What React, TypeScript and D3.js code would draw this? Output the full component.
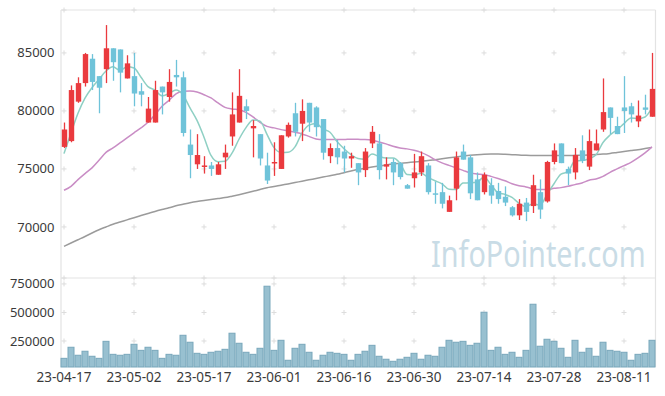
import React from "react"
import * as d3 from "d3"

// trading days shown on the chart
const dates = [
  "23-04-17", "23-04-18", "23-04-19", "23-04-20", "23-04-21", "23-04-24", "23-04-25", "23-04-26", "23-04-27", "23-04-28",
  "23-05-02", "23-05-03", "23-05-04", "23-05-08", "23-05-09", "23-05-10", "23-05-11", "23-05-12", "23-05-15", "23-05-16",
  "23-05-17", "23-05-18", "23-05-19", "23-05-22", "23-05-23", "23-05-24", "23-05-25", "23-05-26", "23-05-30", "23-05-31",
  "23-06-01", "23-06-02", "23-06-05", "23-06-07", "23-06-08", "23-06-09", "23-06-12", "23-06-13", "23-06-14", "23-06-15",
  "23-06-16", "23-06-19", "23-06-20", "23-06-21", "23-06-22", "23-06-23", "23-06-26", "23-06-27", "23-06-28", "23-06-29",
  "23-06-30", "23-07-03", "23-07-04", "23-07-05", "23-07-06", "23-07-07", "23-07-10", "23-07-11", "23-07-12", "23-07-13",
  "23-07-14", "23-07-17", "23-07-18", "23-07-19", "23-07-20", "23-07-21", "23-07-24", "23-07-25", "23-07-26", "23-07-27",
  "23-07-28", "23-07-31", "23-08-01", "23-08-02", "23-08-03", "23-08-04", "23-08-07", "23-08-08", "23-08-09", "23-08-10",
  "23-08-11", "23-08-14", "23-08-16", "23-08-17", "23-08-18",
]

const opens = [
  76900, 77400, 80800, 82400, 84500, 83000, 83600, 85400, 85300, 82800,
  83000, 81700, 79000, 79000, 82100, 81200, 83100, 82900, 77100, 75400,
  75200, 75300, 74500, 76000, 77800, 79000, 80400, 78500, 78000, 75300,
  75500, 75000, 77800, 79800, 78900, 80700, 80300, 79300, 76100, 76800,
  76500, 75900, 75500, 74900, 77200, 77200, 75200, 75600, 75500, 73600,
  74200, 74700, 75300, 72900, 73000, 71300, 73300, 76500, 76000, 74100,
  73000, 73600, 73100, 72600, 71700, 71000, 72100, 71800, 73000, 72200,
  75600, 77200, 75000, 74700, 76600, 75200, 76600, 78400, 80300, 78700,
  80300, 80400, 79100, 80300, 79500,
]
const highs = [
  79000, 82200, 82900, 85000, 84900, 83000, 87400, 85400, 85300, 84800,
  85000, 82400, 81200, 82600, 82100, 83600, 84400, 83400, 78400, 78000,
  76100, 75600, 75600, 77100, 81600, 83600, 81000, 79200, 78000, 76400,
  77300, 77900, 79000, 80700, 81000, 80700, 80400, 79300, 77200, 77500,
  77000, 76400, 75500, 76800, 78700, 78000, 76000, 75900, 75600, 73700,
  76300, 76500, 75500, 73900, 73800, 72700, 76500, 77100, 76200, 74700,
  74700, 74200, 73800, 73500, 71800, 72400, 72500, 74500, 74100, 75700,
  77200, 77200, 75200, 76800, 77900, 78400, 78400, 82800, 80300, 79500,
  83000, 80700, 80900, 81400, 85000,
]
const lows = [
  76800, 77300, 80700, 82100, 81800, 79800, 82400, 82600, 81600, 82800,
  80400, 80400, 79000, 79000, 79700, 80800, 82100, 77800, 74200, 75000,
  74600, 74400, 74500, 75000, 77000, 79000, 79300, 76000, 75300, 73700,
  74400, 75000, 77700, 77800, 77400, 78200, 77800, 75800, 75500, 75400,
  74700, 75100, 73600, 74300, 76800, 74100, 74100, 73600, 74100, 73300,
  73400, 74400, 72800, 72000, 71600, 71300, 72300, 75800, 72400, 72300,
  72800, 72000, 72000, 71800, 70900, 70600, 70500, 71200, 70700, 72100,
  75400, 75500, 73600, 74100, 75500, 74900, 76600, 78200, 78000, 78000,
  78100, 79000, 78600, 79700, 79500,
]
const closes = [
  78400, 81800, 82400, 84900, 82500, 82000, 85400, 84200, 83300, 84100,
  81500, 81400, 80200, 81800, 81600, 82500, 82900, 78100, 76200, 76200,
  75300, 75000, 75400, 76400, 79700, 81300, 80000, 78700, 75900, 74000,
  75600, 77900, 78800, 78200, 80000, 79000, 78600, 76400, 76800, 76000,
  75900, 76100, 74700, 76500, 78200, 74900, 75400, 74700, 74300, 73300,
  74700, 76100, 73000, 72800, 72000, 72300, 76000, 75800, 72900, 72300,
  74500, 72700, 72400, 72100, 71000, 72000, 71300, 73600, 71500, 75600,
  76600, 75500, 74600, 76200, 75700, 77400, 77200, 79900, 79400, 78000,
  80000, 79700, 79600, 80100, 81900,
]
const volumes = [
  98000, 195000, 125000, 160000, 116000, 98000, 247000, 133000, 125000, 133000,
  221000, 168000, 195000, 168000, 98000, 133000, 125000, 300000, 239000, 142000,
  133000, 151000, 160000, 177000, 318000, 230000, 151000, 133000, 186000, 730000,
  168000, 256000, 81000, 186000, 221000, 151000, 81000, 125000, 151000, 142000,
  133000, 81000, 133000, 160000, 212000, 116000, 90000, 72000, 90000, 107000,
  142000, 90000, 125000, 116000, 195000, 256000, 239000, 247000, 212000, 230000,
  502000, 168000, 195000, 133000, 151000, 107000, 168000, 572000, 204000, 265000,
  247000, 186000, 107000, 256000, 151000, 186000, 116000, 239000, 168000, 160000,
  151000, 81000, 133000, 142000, 256000,
]
const ma5 = [
  76320, 78100, 79800, 81100, 82000, 82720, 83440, 83800, 83480, 83800,
  83700, 82900, 82100, 81800, 81300, 81500, 81800, 81380, 80260, 79180,
  77740, 76160, 75620, 75660, 76360, 77560, 78560, 79220, 79120, 77980,
  76840, 76420, 76440, 76900, 78100, 78780, 78920, 78440, 78160, 77360,
  76740, 76240, 75900, 75840, 76280, 76080, 75940, 75940, 75500, 74520,
  74480, 74620, 74280, 73980, 73720, 73240, 73220, 73780, 73800, 73860,
  74300, 73640, 72960, 72800, 72540, 72040, 71760, 72000, 71880, 72800,
  73720, 74560, 74760, 75700, 75720, 75880, 76220, 77280, 77920, 78380,
  78900, 79400, 79340, 79480, 80260,
]
const ma20 = [
  73160, 73500, 74080, 74600, 75090, 75740, 76430, 76810, 77240, 77670,
  78110, 78540, 79020, 79680, 80400, 80910, 81470, 81690, 81720, 81640,
  81400, 81120, 80690, 80310, 80170, 80110, 79880, 79480, 79020, 78670,
  78540, 78390, 78300, 78160, 78020, 77810, 77590, 77530, 77530, 77530,
  77530, 77570, 77550, 77530, 77470, 77330, 77160, 76950, 76810, 76730,
  76610, 76430, 76150, 75800, 75520, 75310, 75090, 74880, 74660, 74570,
  74510, 74360, 74180, 73980, 73730, 73560, 73450, 73280, 73220, 73220,
  73330, 73390, 73500, 73650, 73790, 74020, 74140, 74360, 74710, 75000,
  75290, 75570, 75950, 76380, 76900,
]
const ma60 = [
  68330, 68620, 68900, 69180, 69480, 69760, 70000, 70230, 70420, 70610,
  70800, 70980, 71160, 71340, 71500, 71650, 71820, 71950, 72080, 72190,
  72280, 72360, 72450, 72530, 72650, 72780, 72920, 73070, 73230, 73380,
  73480, 73600, 73710, 73830, 73940, 74060, 74180, 74300, 74420, 74540,
  74680, 74820, 74950, 75060, 75160, 75250, 75340, 75420, 75480, 75540,
  75600, 75660, 75720, 75800, 75880, 75960, 76040, 76110, 76170, 76220,
  76260, 76280, 76280, 76260, 76230, 76200, 76170, 76160, 76150, 76150,
  76150, 76150, 76160, 76170, 76190, 76210, 76240, 76280, 76340, 76420,
  76500, 76580, 76660, 76760, 76860,
]

const priceTicks = [85000, 80000, 75000, 70000]
const volumeTicks = [750000, 500000, 250000]
const dateTicks = ["23-04-17", "23-05-02", "23-05-17", "23-06-01", "23-06-16", "23-06-30", "23-07-14", "23-07-28", "23-08-11"]

const UP = "#ea3a3e"
const DOWN = "#6fc3d9"
const FONT = "'Noto Sans', sans-serif"

export default function App() {
  const width = 665
  const height = 396
  const left = 60.5, right = 655.5
  const top = 10, split = 278, bottom = 367

  const x = d3.scaleBand<string>().domain(dates).range([left, right])
  const yPrice = d3.scaleLinear().domain([65600, 88700]).range([split, top])
  const yVol = d3.scaleLinear().domain([22000, 802000]).range([bottom, split])
  const cx = (i: number) => (x(dates[i]) as number) + x.bandwidth() / 2

  const maLine = d3.line<number>()
    .x((_, i) => cx(i))
    .y(d => yPrice(d))
    .curve(d3.curveMonotoneX)

  const gridX = dateTicks.map(d => (x(d) as number) + x.bandwidth() / 2)
  const gridY = [top, ...priceTicks.map(t => yPrice(t)), split, ...volumeTicks.map(t => yVol(t))]

  return (
    <svg width={width} height={height} style={{ position: "absolute", left: 0, top: 0, background: "#fff" }}>
      {/* watermark, squeezed horizontally */}
      <text transform="translate(431,267) scale(0.8,1)" fontFamily={FONT} fontSize={36} fill="#c9dce6">InfoPointer.com</text>

      {/* frame */}
      <g stroke="#e3e3e3" strokeWidth={1.2} fill="none">
        <line x1={61} y1={top} x2={61} y2={bottom} />
        <line x1={655.5} y1={top} x2={655.5} y2={bottom} />
        <line x1={61} y1={top} x2={655.5} y2={top} />
        <line x1={61} y1={split} x2={655.5} y2={split} />
      </g>

      {/* cross marks at grid intersections */}
      <g stroke="#dcdcdc" strokeWidth={1}>
        {gridX.map(gx => gridY.map(gy => (
          <g key={gx + "-" + gy}>
            <line x1={gx - 2.5} y1={gy} x2={gx + 2.5} y2={gy} />
            <line x1={gx} y1={gy - 2.5} x2={gx} y2={gy + 2.5} />
          </g>
        )))}
      </g>

      {/* volume */}
      <g>
        {volumes.map((v, i) => (
          <rect key={i} x={(x(dates[i]) as number) + 0.5} y={yVol(v)}
            width={x.bandwidth() - 1} height={bottom - yVol(v)}
            fill="#98c0d0" stroke="#79a7bb" strokeWidth={1} />
        ))}
      </g>

      {/* moving averages */}
      <path d={maLine(ma60) as string} fill="none" stroke="#9b9b9b" strokeWidth={1.5} />
      <path d={maLine(ma20) as string} fill="none" stroke="#c98dc5" strokeWidth={1.5} />
      <path d={maLine(ma5) as string} fill="none" stroke="#8fd0c4" strokeWidth={1.5} />

      {/* candles */}
      {dates.map((d, i) => {
        const o = opens[i], c = closes[i]
        const color = c >= o ? UP : DOWN
        const px = Math.round(cx(i)) + 0.5
        const bt = yPrice(Math.max(o, c))
        const bh = Math.max(1.5, yPrice(Math.min(o, c)) - bt)
        return (
          <g key={d}>
            <line x1={px} x2={px} y1={yPrice(highs[i])} y2={yPrice(lows[i])} stroke={color} strokeWidth={1.3} />
            <rect x={px - 2.7} y={bt} width={5.4} height={bh} fill={color} />
          </g>
        )
      })}

      {/* axis labels */}
      <g fontFamily={FONT} fontSize={13} fill="#3a3a3a" textAnchor="end">
        {priceTicks.map(t => (
          <text key={t} x={54.5} y={yPrice(t)} dy="0.35em">{t}</text>
        ))}
        {volumeTicks.map(t => (
          <text key={t} x={54.5} y={yVol(t)} dy="0.35em">{t}</text>
        ))}
      </g>
      <g fontFamily={FONT} fontSize={13.5} fill="#3a3a3a" textAnchor="middle">
        {dateTicks.map((t, i) => (
          <text key={t} x={gridX[i]} y={381.5}>{t}</text>
        ))}
      </g>
    </svg>
  )
}
